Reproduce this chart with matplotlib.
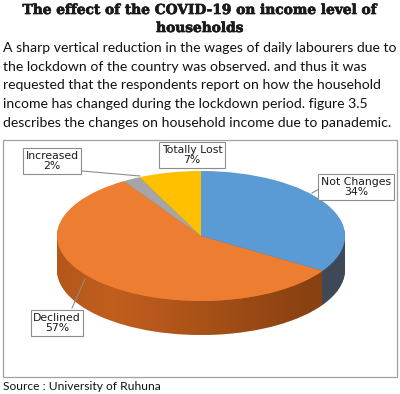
import numpy as np
import matplotlib
matplotlib.use("Agg")
import matplotlib.pyplot as plt
from matplotlib.patches import Rectangle, Polygon
import matplotlib.patheffects as pe

# ---- data ----
categories = ["Not Changes", "Declined", "Increased", "Totally Lost"]
shares = [34, 57, 2, 7]
top_colors = ["#5B9BD5", "#ED7D31", "#A5A5A5", "#FFC000"]
side_colors = ["#3F6F9E", "#C8621F", "#7F7F7F", "#C79600"]

title_lines = ["The effect of the COVID-19 on income level of", "households"]
para_lines = [
    "A sharp vertical reduction in the wages of daily labourers due to",
    "the lockdown of the country was observed. and thus it was",
    "requested that the respondents report on how the household",
    "income has changed during the lockdown period. figure 3.5",
    "describes the changes on household income due to panademic.",
]
source_text = "Source : University of Ruhuna"

para_font = "Lato"

W, H = 400, 394
fig = plt.figure(figsize=(W / 100, H / 100), dpi=100)
fig.patch.set_facecolor("white")

bg = fig.add_axes([0, 0, 1, 1])
bg.set_xlim(0, W)
bg.set_ylim(H, 0)
bg.axis("off")

renderer = fig.canvas.get_renderer()

def fit_text(ax, x, y, s, target_w, ha="left", **kw):
    t = ax.text(x, y, s, ha=ha, va="center", fontsize=10, **kw)
    w = t.get_window_extent(renderer).width
    t.set_fontsize(10 * target_w / w)
    return t

# title
stroke = [pe.withStroke(linewidth=0.5, foreground="#1a1a1a")]
t1 = fit_text(bg, 200, 10, title_lines[0], 355, ha="center",
              family="DejaVu Serif", fontweight="bold", color="#1a1a1a",
              path_effects=stroke)
bg.text(200, 28, title_lines[1], ha="center", va="center",
        fontsize=t1.get_fontsize(), family="DejaVu Serif", fontweight="bold",
        color="#1a1a1a", path_effects=stroke)

# paragraph
p1 = fit_text(bg, 3, 48, para_lines[0], 393, family=para_font, color="#111111")
for i, line in enumerate(para_lines[1:], start=1):
    bg.text(3, 48 + i * 18.7, line, ha="left", va="center",
            fontsize=p1.get_fontsize(), family=para_font, color="#111111")

# source
fit_text(bg, 3, 387, source_text, 157, family=para_font, color="#111111")

# chart frame
bg.add_patch(Rectangle((3, 140), 394, 237, fill=False, edgecolor="#A0A0A0", lw=0.9))

# ---- pie (elliptical, with depth) ----
cx, cy, rx, ry, depth = 201, 236, 144, 65, 34
pax = fig.add_axes([0, 0, 1, 1])
pax.axis("off")

nlayers = 40
for k in range(nlayers, 0, -1):
    d = depth * k / nlayers / ry
    pax.pie(shares, colors=side_colors, startangle=90, counterclock=False,
            center=(0, -d), radius=1, wedgeprops=dict(linewidth=0))

# gradient shading of the side band
theta = np.linspace(np.pi, 2 * np.pi, 200)
upper = np.column_stack([np.cos(theta), np.sin(theta)])
lower = np.column_stack([np.cos(theta[::-1]), np.sin(theta[::-1]) - depth / ry])
band = np.vstack([upper, lower])
band_patch = Polygon(band, closed=True, facecolor="none", edgecolor="none",
                     transform=pax.transData)
pax.add_patch(band_patch)
grad = np.zeros((2, 256, 4))
xs = np.linspace(-1, 1, 256)
alpha = np.clip(0.05 + 0.45 * (xs + 0.6) / 1.5, 0, 0.45)
alpha = np.where(xs < -0.6, 0.05 + 0.10 * ((-0.6 - xs) / 0.4), alpha)
grad[..., 3] = alpha
grad[..., 0] = 0.25
grad[..., 1] = 0.1
grad[..., 2] = 0.0
im = pax.imshow(grad, extent=(-1, 1, -1 - depth / ry, 0.2), aspect="auto",
                interpolation="bilinear", zorder=1.5)
im.set_clip_path(band_patch)

wedges, _ = pax.pie(shares, colors=top_colors, startangle=90, counterclock=False,
                    center=(0, 0), radius=1, wedgeprops=dict(linewidth=0))
for w in wedges:
    w.set_zorder(2)

pax.set_aspect("auto")
pax.set_xlim((0 - cx) / rx, (W - cx) / rx)
pax.set_ylim((cy - H) / ry, (cy - 0) / ry)

# ---- labels ----
box = dict(boxstyle="square,pad=0.24", facecolor="white", edgecolor="#8C8C8C", lw=0.8)
lab_kw = dict(ha="center", va="center", fontsize=7.8, family="DejaVu Sans",
              color="#1a1a1a", linespacing=1.12, bbox=box, zorder=5)
labels = [f"{c}\n{v}%" for c, v in zip(categories, shares)]
pos = {"Not Changes": (356, 187), "Declined": (57, 323),
       "Increased": (52, 161), "Totally Lost": (192, 155)}

# leader lines
bg.plot([82, 140], [171, 176], color="#8C8C8C", lw=0.8, zorder=4)
bg.plot([72, 85], [308, 279], color="#8C8C8C", lw=0.8, zorder=4)
bg.plot([321, 312], [188, 193], color="#8C8C8C", lw=0.8, zorder=4)

for c, s in zip(categories, labels):
    x, y = pos[c]
    bg.text(x, y, s, **lab_kw)

bg.set_zorder(3)
pax.set_zorder(2)
bg.patch.set_alpha(0)

fig.savefig("out.png", dpi=100, facecolor="white")
